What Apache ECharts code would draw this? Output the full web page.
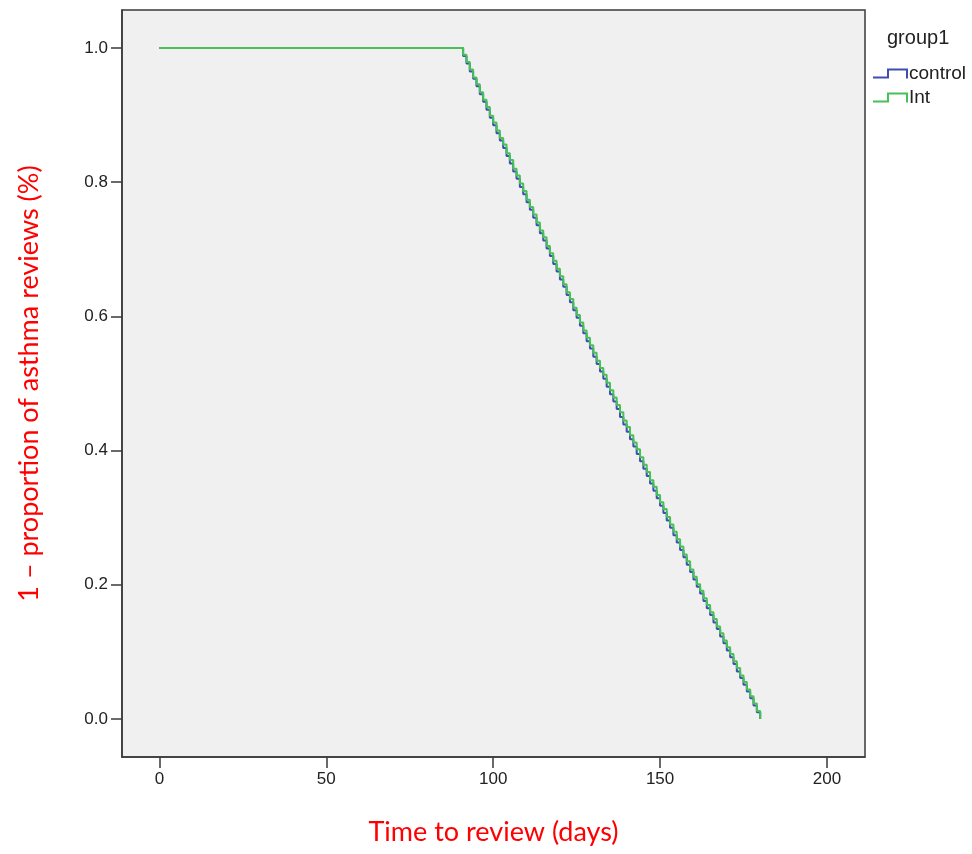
<!DOCTYPE html>
<html>
<head>
<meta charset="utf-8">
<script src="https://cdn.jsdelivr.net/npm/echarts@6/dist/echarts.min.js"></script>
<style>
html,body{margin:0;padding:0;background:#ffffff;}
#chart{width:972px;height:854px;}
</style>
</head>
<body>
<div id="chart"></div>
<script>
// Time points (days) at which reviews occurred
const days = [0,
  91,92,93,94,95,96,97,98,99,100,
  101,102,103,104,105,106,107,108,109,110,
  111,112,113,114,115,116,117,118,119,120,
  121,122,123,124,125,126,127,128,129,130,
  131,132,133,134,135,136,137,138,139,140,
  141,142,143,144,145,146,147,148,149,150,
  151,152,153,154,155,156,157,158,159,160,
  161,162,163,164,165,166,167,168,169,170,
  171,172,173,174,175,176,177,178,179,180];

// 1 - proportion reviewed, control group
const controlValues = [1.000,
  0.988,0.977,0.965,0.954,0.943,0.931,0.920,0.908,0.896,0.885,
  0.873,0.862,0.851,0.839,0.828,0.816,0.805,0.793,0.782,0.770,
  0.759,0.747,0.736,0.724,0.713,0.701,0.690,0.678,0.667,0.655,
  0.644,0.632,0.621,0.609,0.598,0.586,0.575,0.563,0.552,0.540,
  0.529,0.518,0.507,0.495,0.484,0.473,0.462,0.450,0.439,0.428,
  0.417,0.406,0.395,0.384,0.373,0.362,0.351,0.340,0.329,0.318,
  0.307,0.296,0.285,0.274,0.263,0.252,0.241,0.230,0.219,0.208,
  0.197,0.187,0.176,0.165,0.155,0.144,0.134,0.123,0.113,0.102,
  0.092,0.082,0.071,0.061,0.051,0.041,0.031,0.020,0.010,0.000];

// 1 - proportion reviewed, intervention group
const intValues = [1.000,
  0.990,0.979,0.968,0.956,0.946,0.934,0.923,0.912,0.899,0.889,
  0.877,0.866,0.856,0.843,0.833,0.820,0.810,0.798,0.787,0.774,
  0.763,0.752,0.740,0.728,0.718,0.705,0.694,0.683,0.671,0.660,
  0.648,0.636,0.626,0.613,0.602,0.591,0.579,0.568,0.557,0.546,
  0.534,0.523,0.513,0.501,0.490,0.479,0.468,0.457,0.445,0.435,
  0.423,0.412,0.402,0.390,0.379,0.368,0.356,0.346,0.334,0.323,
  0.313,0.301,0.290,0.279,0.268,0.257,0.245,0.235,0.223,0.212,
  0.201,0.191,0.180,0.170,0.159,0.149,0.138,0.128,0.117,0.107,
  0.097,0.086,0.076,0.065,0.055,0.044,0.034,0.023,0.012,0.000];

const xTicks = [0, 50, 100, 150, 200];
const yTicks = [0.0, 0.2, 0.4, 0.6, 0.8, 1.0];
const groupNames = ['control', 'Int'];

const stepIcon = 'path://M0,8 H14 V0 H35 V10 H33 V2 H16 V10 H0 Z';

const chart = echarts.init(document.getElementById('chart'), null, {renderer: 'canvas'});

const pairs = (vals) => days.map((d, i) => [d, vals[i]]);

const option = {
  backgroundColor: '#ffffff',
  animation: false,
  title: {
    text: 'group1',
    left: 882,
    top: 23,
    textStyle: {fontFamily: 'Liberation Sans', fontSize: 20, fontWeight: 'normal', color: '#222'}
  },
  legend: {
    data: groupNames.map(n => ({name: n, icon: stepIcon})),
    orient: 'vertical',
    left: 868,
    top: 59,
    itemWidth: 35,
    itemHeight: 10,
    itemGap: 5,
    textStyle: {fontFamily: 'Liberation Sans', fontSize: 19, color: '#222', padding: [0, 0, 0, -4]}
  },
  grid: {
    left: 122, top: 10, width: 743, height: 747,
    show: true,
    backgroundColor: '#f0f0f0',
    borderColor: '#3a3a3a',
    borderWidth: 1.5
  },
  xAxis: {
    type: 'value',
    min: -11.2,
    max: 211.4,
    name: 'Time to review (days)',
    nameLocation: 'middle',
    nameGap: 62,
    nameTextStyle: {fontFamily: 'Lato', fontSize: 27, color: '#ff0000'},
    axisLine: {show: true, onZero: false, lineStyle: {color: '#3a3a3a', width: 1.5}},
    axisTick: {show: true, inside: false, customValues: xTicks, length: 11, lineStyle: {color: '#3a3a3a', width: 1.5}},
    axisLabel: {show: true, customValues: xTicks, margin: 14, fontFamily: 'Liberation Sans', fontSize: 17, color: '#222'},
    splitLine: {show: false}
  },
  yAxis: {
    type: 'value',
    min: -0.0566,
    max: 1.0566,
    name: '1 \u2013 proportion of asthma reviews (%)',
    nameLocation: 'middle',
    nameRotate: 90,
    nameGap: 79,
    nameTextStyle: {fontFamily: 'Lato', fontSize: 27, color: '#ff0000'},
    axisLine: {show: true, onZero: false, lineStyle: {color: '#3a3a3a', width: 1.5}},
    axisTick: {show: true, inside: false, customValues: yTicks, length: 11, lineStyle: {color: '#3a3a3a', width: 1.5}},
    axisLabel: {show: true, customValues: yTicks, margin: 14, fontFamily: 'Liberation Sans', fontSize: 17, color: '#222',
      formatter: v => Number(v).toFixed(1)},
    splitLine: {show: false}
  },
  series: [
    {
      name: 'control',
      type: 'line',
      step: 'end',
      showSymbol: false,
      data: pairs(controlValues),
      color: '#3f4fb0',
      lineStyle: {width: 2, color: '#3f4fb0'},
      itemStyle: {color: '#3f4fb0'}
    },
    {
      name: 'Int',
      type: 'line',
      step: 'end',
      showSymbol: false,
      data: pairs(intValues),
      color: '#45c156',
      lineStyle: {width: 2, color: '#45c156'},
      itemStyle: {color: '#45c156'}
    }
  ]
};

chart.setOption(option);
</script>
</body>
</html>
